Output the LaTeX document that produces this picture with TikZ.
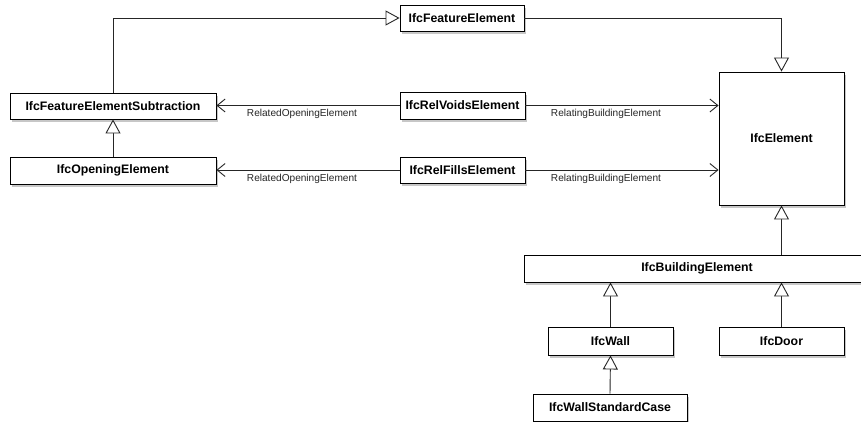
\documentclass[tikz,border=0pt]{standalone}
\usepackage{fontspec}
\setmainfont{Liberation Sans}
\usetikzlibrary{arrows.meta,shadows}
\begin{document}
\begin{tikzpicture}[x=1pt,y=-1pt,
  cls/.style={draw=black, fill=white, line width=0.9pt, inner sep=0pt,
    font=\bfseries\fontsize{12.3}{14}\selectfont,
    drop shadow={shadow xshift=2pt, shadow yshift=-2.5pt, fill=black, opacity=0.22}},
  gen/.style={draw=black!85, line width=0.9pt, -{Triangle[open,length=14pt,width=15pt,fill=white]}},
  assoc/.style={draw=black!85, line width=0.9pt, -{Straight Barb[length=8pt,width=13pt]}},
  lbl/.style={font=\fontsize{10.1}{12}\selectfont, text=black!85, inner sep=0pt}]
\useasboundingbox (0,0) rectangle (861,421);
\fill[white] (0,0) rectangle (861,421);

\node[cls, minimum width=124pt, minimum height=26pt] (fe) at (462,18) {IfcFeatureElement};
\node[cls, minimum width=206pt, minimum height=26pt] (fes) at (113,106) {IfcFeatureElementSubtraction};
\node[cls, minimum width=206pt, minimum height=27pt] (ope) at (113,170.5) {IfcOpeningElement};
\node[cls, minimum width=125pt, minimum height=27pt] (rv) at (462.5,105.5) {IfcRelVoidsElement};
\node[cls, minimum width=125pt, minimum height=26pt] (rf) at (462.5,170) {IfcRelFillsElement};
\node[cls, minimum width=125pt, minimum height=133pt] (el) at (781.5,138.5) {IfcElement};
\node[cls, minimum width=346pt, minimum height=27pt] (be) at (697,268.5) {IfcBuildingElement};
\node[cls, minimum width=125pt, minimum height=28pt] (wall) at (610.5,341) {IfcWall};
\node[cls, minimum width=125pt, minimum height=28pt] (door) at (781.5,341) {IfcDoor};
\node[cls, minimum width=154pt, minimum height=27pt] (wsc) at (610,407.5) {IfcWallStandardCase};

% generalizations
\draw[gen] (fes.north) |- (fe.west);
\draw[gen] (fe.east) -| (el.north);
\draw[gen] (ope.north) -- (fes.south);
\draw[gen] (el.south |- be.north) -- (el.south);
\draw[gen] (wall.north) -- (wall.north |- be.south);
\draw[gen] (door.north) -- (door.north |- be.south);
\draw[gen] (wsc.north) -- (wall.south);

% associations
\draw[assoc] (rv.west) -- (fes.east |- rv.west);
\draw[assoc] (rv.east) -- (el.west |- rv.east);
\draw[assoc] (rf.west) -- (ope.east |- rf.west);
\draw[assoc] (rf.east) -- (el.west |- rf.east);

\node[lbl] (l1) at (302,114) {RelatedOpeningElement};
\node[lbl] (l2) at (606,114) {RelatingBuildingElement};
\node[lbl] (l3) at (302,179) {RelatedOpeningElement};
\node[lbl] (l4) at (606,179) {RelatingBuildingElement};
\end{tikzpicture}
\end{document}
